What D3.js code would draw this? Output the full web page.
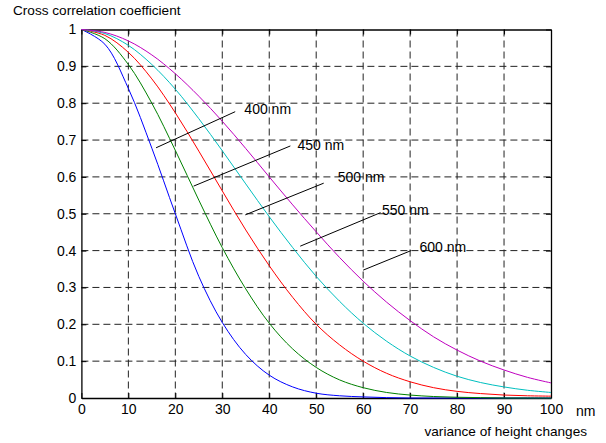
<!DOCTYPE html>
<html><head><meta charset="utf-8">
<script src="https://cdn.jsdelivr.net/npm/d3@7"></script>
<style>
html,body{margin:0;padding:0;background:#fff;}
text{font-family:Arial,"Liberation Sans",Helvetica,sans-serif;fill:#000;}
</style></head>
<body><svg id="c" width="606" height="443"></svg>
<script>
// ---- data ----
const xValues = [0,5,10,15,20,25,30,35,40,45,50,55,60,65,70,75,80,85,90,95,100];
const s400 = [1.000,0.960,0.840,0.678,0.500,0.330,0.205,0.118,0.062,0.030,0.013,0.006,0.003,0.001,0.000,0.000,0.000,0.000,0.000,0.000,0.000];
const s450 = [1.000,0.975,0.905,0.800,0.672,0.537,0.408,0.296,0.203,0.133,0.083,0.049,0.028,0.015,0.008,0.004,0.002,0.001,0.000,0.000,0.000];
const s500 = [1.000,0.984,0.938,0.866,0.774,0.670,0.562,0.456,0.359,0.273,0.200,0.144,0.100,0.067,0.044,0.028,0.018,0.012,0.008,0.006,0.005];
const s550 = [1.000,0.989,0.957,0.905,0.838,0.758,0.671,0.581,0.492,0.408,0.330,0.262,0.203,0.154,0.114,0.083,0.059,0.042,0.030,0.021,0.015];
const s600 = [1.000,0.992,0.969,0.931,0.880,0.819,0.751,0.677,0.600,0.524,0.451,0.381,0.317,0.260,0.210,0.166,0.130,0.100,0.076,0.056,0.041];
const seriesNames = ["400 nm","450 nm","500 nm","550 nm","600 nm"];
const seriesColors = ["#0000ff","#008000","#ff0000","#00bfbf","#bf00bf"];
const xTicks = [0,10,20,30,40,50,60,70,80,90,100];
const yTicks = [0,0.1,0.2,0.3,0.4,0.5,0.6,0.7,0.8,0.9,1];
const yTickLabels = ["0","0.1","0.2","0.3","0.4","0.5","0.6","0.7","0.8","0.9","1"];
// annotation leader lines: [x1,y1,x2,y2] in data units, label position
const annLines = [[15.9,0.679,32.75,0.777],[23.9,0.575,44.5,0.684],[34.9,0.497,51.6,0.583],[46.6,0.412,63.7,0.503],[60.0,0.347,70.2,0.400]];
const annText = [[34.7,0.771],[46.0,0.673],[54.6,0.586],[64.0,0.497],[72.0,0.396]];
const xUnit = "nm";
const xTitle = "variance of height changes";
const yTitle = "Cross correlation coefficient";

const svg = d3.select("#c");
const L = 81.4, R = 551, T = 29.5, B = 398;
const x = d3.scaleLinear().domain([0,100]).range([L,R]);
const y = d3.scaleLinear().domain([0,1]).range([B,T]);

// grid
const g = svg.append("g");
g.selectAll(".vg").data(xTicks.slice(1,-1)).join("line")
  .attr("x1",d=>x(d)).attr("x2",d=>x(d)).attr("y1",T).attr("y2",B)
  .attr("stroke","#222").attr("stroke-width",1).attr("stroke-dasharray","7,4");
g.selectAll(".hg").data(yTicks.slice(1,-1)).join("line")
  .attr("x1",L).attr("x2",R).attr("y1",d=>y(d)).attr("y2",d=>y(d))
  .attr("stroke","#222").attr("stroke-width",1).attr("stroke-dasharray","7,4");

// axes with inward ticks
const fs = "14px";
const ax = svg.append("g").attr("transform",`translate(0,${B})`)
  .call(d3.axisBottom(x).tickValues(xTicks).tickSize(-5).tickPadding(6).tickSizeOuter(0));
const axT = svg.append("g").attr("transform",`translate(0,${T})`)
  .call(d3.axisTop(x).tickValues(xTicks).tickSize(-5).tickFormat("").tickSizeOuter(0));
const ay = svg.append("g").attr("transform",`translate(${L},0)`)
  .call(d3.axisLeft(y).tickValues(yTicks).tickSize(-5).tickPadding(5).tickSizeOuter(0)
  .tickFormat((d,i)=>yTickLabels[i]));
const ayR = svg.append("g").attr("transform",`translate(${R},0)`)
  .call(d3.axisRight(y).tickValues(yTicks).tickSize(-5).tickFormat("").tickSizeOuter(0));
[ax,axT,ay,ayR].forEach(a=>{
  a.select(".domain").attr("stroke","#000").attr("stroke-width",1.3);
  a.selectAll(".tick line").attr("stroke","#000");
  a.selectAll("text").attr("font-size",fs).attr("font-family","Arial, 'Liberation Sans', sans-serif").attr("fill","#000");
});

// series
const line = d3.line().x((d,i)=>x(xValues[i])).y(d=>y(d)).curve(d3.curveCatmullRom);
[s400,s450,s500,s550,s600].forEach((s,k)=>{
  svg.append("path").datum(s).attr("d",line).attr("fill","none")
    .attr("stroke",seriesColors[k]).attr("stroke-width",1);
});

// annotations
annLines.forEach((a,k)=>{
  svg.append("line").attr("x1",x(a[0])).attr("y1",y(a[1])).attr("x2",x(a[2])).attr("y2",y(a[3]))
    .attr("stroke","#000").attr("stroke-width",1);
  svg.append("text").attr("x",x(annText[k][0])).attr("y",y(annText[k][1]))
    .attr("font-size",fs).text(seriesNames[k]);
});

// titles
svg.append("text").attr("x",576).attr("y",415.5).attr("font-size",fs).text(xUnit);
svg.append("text").attr("x",587).attr("y",436).attr("text-anchor","end").attr("font-size","13.6px").text(xTitle);
svg.append("text").attr("x",13).attr("y",15).attr("font-size","13.6px").text(yTitle);
</script></body></html>
